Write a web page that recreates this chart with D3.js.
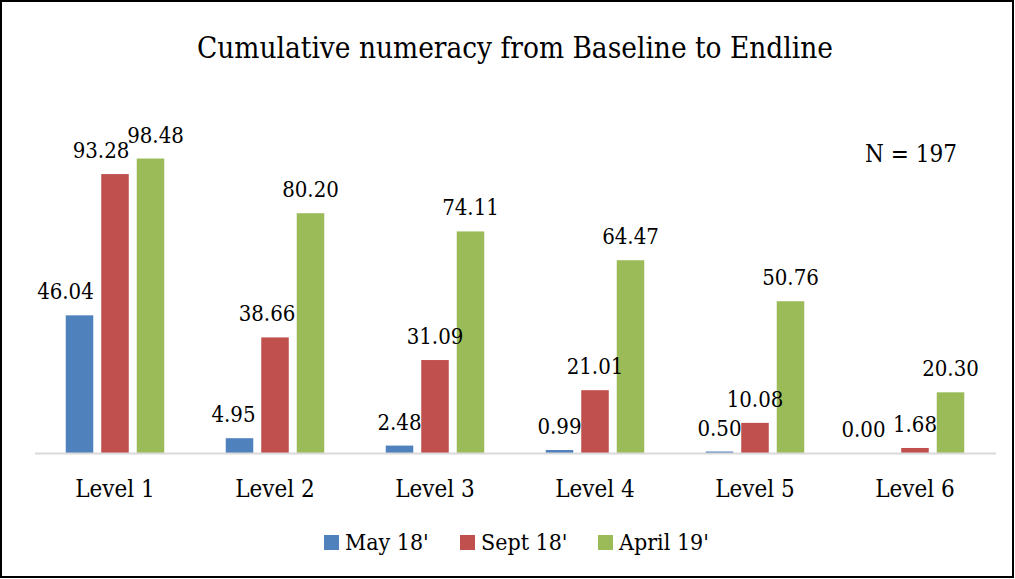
<!DOCTYPE html>
<html><head><meta charset="utf-8">
<script src="https://cdn.jsdelivr.net/npm/d3@7"></script>
<style>html,body{margin:0;padding:0;background:#fff;}svg{display:block;}</style>
</head><body>
<script>
const categories = ["Level 1","Level 2","Level 3","Level 4","Level 5","Level 6"];
const seriesNames = ["May 18'","Sept 18'","April 19'"];
const may18 = [46.04, 4.95, 2.48, 0.99, 0.50, 0.00];
const sept18 = [93.28, 38.66, 31.09, 21.01, 10.08, 1.68];
const april19 = [98.48, 80.20, 74.11, 64.47, 50.76, 20.30];
const colors = ["#4F81BD","#C0504D","#9BBB59"];
const titleText = "Cumulative numeracy from Baseline to Endline";
const noteText = "N = 197";
// manual label nudges (series index, category index) -> dx, as in the reference
const labelNudge = {"0-0": -14, "1-0": -14, "2-0": 5, "0-1": -6, "1-1": -8, "0-5": -16};

const W = 1015, H = 579;
const svg = d3.select("body").append("svg").attr("width", W).attr("height", H);
svg.append("rect").attr("x",1).attr("y",1).attr("width",W-3).attr("height",H-3)
  .attr("fill","#fff").attr("stroke","#000").attr("stroke-width",2);

const serif = "'DejaVu Serif', serif";
const setFont = (sel, size) => sel.attr("font-family", serif).attr("font-stretch","condensed")
  .attr("font-size", size).attr("fill","#000");

setFont(svg.append("text").attr("x", 515).attr("y", 58).attr("text-anchor","middle"), 29)
  .attr("textLength", 636).attr("lengthAdjust","spacingAndGlyphs").text(titleText);

const x0 = d3.scaleBand().domain(categories).range([35, 995]).padding(0);
const x1 = d3.scaleBand().domain(d3.range(3)).range([0, x0.bandwidth()])
  .paddingInner(0.225).paddingOuter(0.866);
const y = d3.scaleLinear().domain([0, 100]).range([453, 154]);

const series = [may18, sept18, april19];
const data = [];
series.forEach((vals, si) => vals.forEach((v, ci) => data.push({si, ci, v, cat: categories[ci]})));

svg.append("g").selectAll("rect").data(data).join("rect")
  .attr("x", d => x0(d.cat) + x1(d.si))
  .attr("y", d => y(d.v))
  .attr("width", x1.bandwidth())
  .attr("height", d => y(0) - y(d.v))
  .attr("fill", d => colors[d.si]);

// axis
const xAxis = d3.axisBottom(x0).tickSize(0).tickPadding(0);
const ax = svg.append("g").attr("transform", `translate(0,${y(0)})`).call(xAxis);
ax.select(".domain").attr("stroke","#D9D9D9").attr("stroke-width",2).attr("d","M35,0.5H996");
setFont(ax.selectAll("text"), 24).attr("dy", null).attr("y", 44);

// labels
setFont(svg.append("g").selectAll("text").data(data).join("text")
  .attr("x", d => x0(d.cat) + x1(d.si) + x1.bandwidth()/2 + (labelNudge[d.si+"-"+d.ci] || 0))
  .attr("y", d => y(d.v) - 16)
  .attr("text-anchor","middle"), 22).text(d => d.v.toFixed(2));

setFont(svg.append("text").attr("x", 911).attr("y", 162).attr("text-anchor","middle"), 24).text(noteText);

// legend
const legendX = [324, 460, 598];
const lg = svg.append("g").selectAll("g").data(seriesNames).join("g")
  .attr("transform", (d,i) => `translate(${legendX[i]},535)`);
lg.append("rect").attr("width",15).attr("height",15).attr("fill",(d,i)=>colors[i]);
setFont(lg.append("text").attr("x",21).attr("y",15), 23).text(d => d);
</script>
</body></html>
